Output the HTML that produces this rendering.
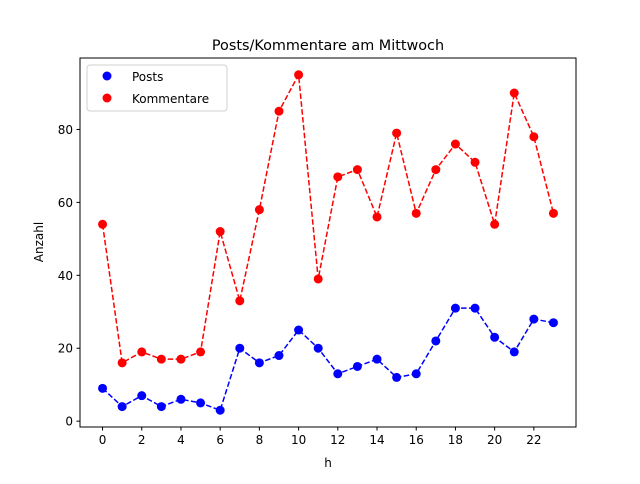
<!DOCTYPE html>
<html><head><meta charset="utf-8"><style>
body{margin:0;background:#fff;font-family:"DejaVu Sans","Liberation Sans",sans-serif;}
text{font-family:"DejaVu Sans","Liberation Sans",sans-serif;}
</style></head><body>
<svg id="chart" width="640" height="480" xmlns="http://www.w3.org/2000/svg">
<rect width="640" height="480" fill="#fff"/>
<text x="328" y="50" font-size="14.4" text-anchor="middle">Posts/Kommentare am Mittwoch</text>
<g id="xt"></g><g id="yt"></g><g id="series"></g>
<rect x="80" y="58" width="496" height="369" fill="none" stroke="#000" stroke-width="1"/>
<text x="328" y="467" font-size="12" text-anchor="middle">h</text>
<text x="0" y="0" font-size="12" text-anchor="middle" transform="translate(43,242) rotate(-90)">Anzahl</text>
<g>
<rect x="87" y="65" width="140" height="46" rx="3" fill="#fff" stroke="#ccc" stroke-width="1" opacity="0.9"/>
<circle cx="107" cy="76" r="4.5" fill="#0000ff"/>
<text x="132" y="81" font-size="12">Posts</text>
<circle cx="107" cy="98" r="4.5" fill="#ff0000"/>
<text x="132" y="103" font-size="12">Kommentare</text>
</g>
</svg>
<script>
const hours=[0,1,2,3,4,5,6,7,8,9,10,11,12,13,14,15,16,17,18,19,20,21,22,23];
const posts=[9,4,7,4,6,5,3,20,16,18,25,20,13,15,17,12,13,22,31,31,23,19,28,27];
const kommentare=[54,16,19,17,17,19,52,33,58,85,95,39,67,69,56,79,57,69,76,71,54,90,78,57];
const xTicks=[0,2,4,6,8,10,12,14,16,18,20,22];
const yTicks=[0,20,40,60,80];
const NS="http://www.w3.org/2000/svg";
const X0=80,X1=576,Y0=427,Y1=58,xmin=-1.15,xmax=24.15,ymin=-1.6,ymax=99.6;
const sx=v=>X0+(v-xmin)/(xmax-xmin)*(X1-X0);
const sy=v=>Y0-(v-ymin)/(ymax-ymin)*(Y0-Y1);
function mk(t,a,p){const e=document.createElementNS(NS,t);for(const k in a)e.setAttribute(k,a[k]);p.appendChild(e);return e;}
const xt=document.getElementById('xt'),yt=document.getElementById('yt'),sg=document.getElementById('series');
xTicks.forEach(v=>{
 const g=mk('g',{},xt);
 
 
 mk('line',{x1:sx(v),x2:sx(v),y1:Y0,y2:Y0+3.5,stroke:'#000'},g);
 const t=mk('text',{x:sx(v),y:Y0+17,'font-size':12,'text-anchor':'middle'},g);t.textContent=v;
});
yTicks.forEach(v=>{
 const g=mk('g',{},yt);
 
 
 mk('line',{x1:X0-3.5,x2:X0,y1:sy(v),y2:sy(v),stroke:'#000'},g);
 const t=mk('text',{x:X0-7,y:sy(v)+4.5,'font-size':12,'text-anchor':'end'},g);t.textContent=v;
});
function series(data,color,name){
 const g=mk('g',{},sg);
 
 
 mk('polyline',{points:data.map((v,i)=>sx(hours[i])+','+sy(v)).join(' '),fill:'none',stroke:color,'stroke-width':1.5,'stroke-dasharray':'5.5,2.4'},g);
 data.forEach((v,i)=>{
  const c=mk('circle',{cx:sx(hours[i]),cy:sy(v),r:4.5,fill:color},g);
  
  
 });
}
series(posts,'#0000ff','posts');
series(kommentare,'#ff0000','kommentare');
</script>
</body></html>
